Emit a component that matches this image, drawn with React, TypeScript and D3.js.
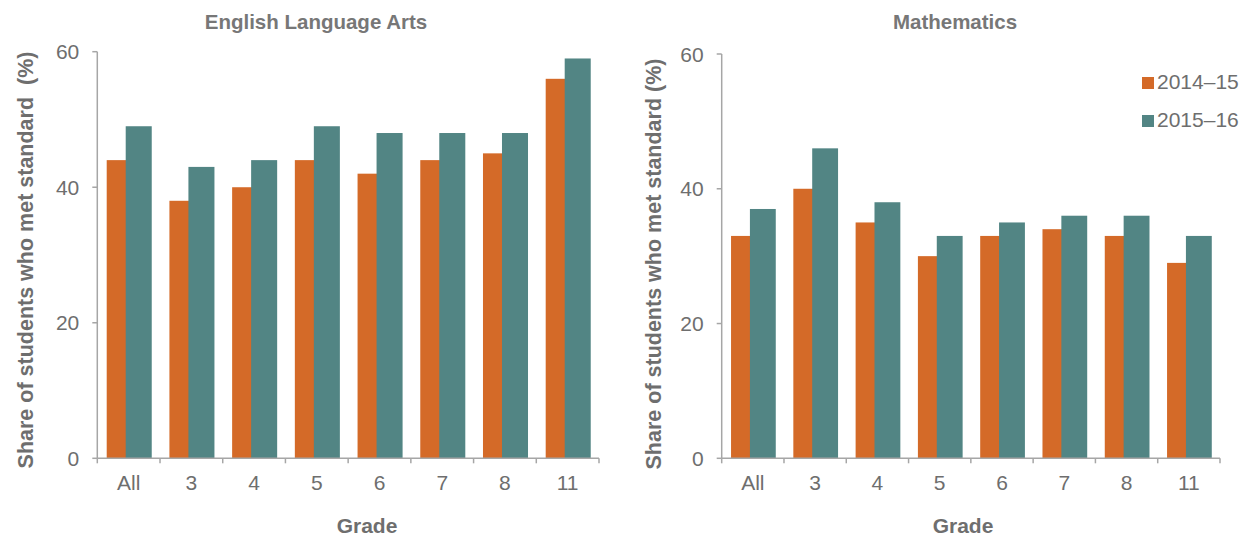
import React from "react";
import * as d3 from "d3";

// Grades shown on the x axis
const grades = ["All", "3", "4", "5", "6", "7", "8", "11"];
// School years
const years = ["2014–15", "2015–16"];
// Share of students who met standard (%)
const elaPrev = [44, 38, 40, 44, 42, 44, 45, 56];
const elaCurr = [49, 43, 44, 49, 48, 48, 48, 59];
const mathPrev = [33, 40, 35, 30, 33, 34, 33, 29];
const mathCurr = [37, 46, 38, 33, 35, 36, 36, 33];
const yTicks = [0, 20, 40, 60];

const COLORS = ["#D46A28", "#528584"];
const AXIS = "#A6A6A6";
const TEXT = "#6E6E6E";
const FONT = "'Liberation Sans', Arial, Helvetica, sans-serif";

type PanelProps = {
  title: string;
  yLabel: string;
  prev: number[];
  curr: number[];
  x0: number;
  x1: number;
  yTop: number;
  yBottom: number;
  titleX: number;
  yLabelX: number;
  yLabelY: number;
  gradeX: number;
  legend?: boolean;
};

function Panel(p: PanelProps) {
  const x = d3.scaleBand<string>().domain(grades).range([p.x0, p.x1]).paddingInner(0).paddingOuter(0);
  const y = d3.scaleLinear().domain([0, 60]).range([p.yBottom, p.yTop]);
  const step = x.step();
  const barW = step * 0.415;
  const offsets = [0.15, 0.453];
  const boundaries = grades.map((g) => x(g) as number).concat([p.x1]);

  return (
    <g>
      <text x={p.titleX} y={29} textAnchor="middle" fontFamily={FONT} fontSize={20.5} fontWeight="bold" fill="#777777">
        {p.title}
      </text>

      {/* bars: earlier year first so the later year sits over the overlap */}
      {[p.prev, p.curr].map((vals, si) =>
        vals.map((v, i) => (
          <rect
            key={`${si}-${i}`}
            x={(x(grades[i]) as number) + offsets[si] * step}
            y={y(v)}
            width={barW}
            height={y(0) - y(v)}
            fill={COLORS[si]}
          />
        ))
      )}

      {/* y axis */}
      <line x1={p.x0} x2={p.x0} y1={y(60)} y2={y(0)} stroke={AXIS} strokeWidth={1.5} />
      {yTicks.map((t) => (
        <g key={t}>
          <line x1={p.x0 - 5} x2={p.x0} y1={y(t)} y2={y(t)} stroke={AXIS} strokeWidth={1.5} />
          <text x={p.x0 - 18} y={y(t)} dy="0.36em" textAnchor="end" fontFamily={FONT} fontSize={21} fill={TEXT}>
            {t}
          </text>
        </g>
      ))}

      {/* x axis */}
      <line x1={p.x0} x2={p.x1} y1={y(0)} y2={y(0)} stroke={AXIS} strokeWidth={1.5} />
      {boundaries.map((b, i) => (
        <line key={i} x1={b} x2={b} y1={y(0)} y2={y(0) + 5} stroke={AXIS} strokeWidth={1.5} />
      ))}
      {grades.map((g) => (
        <text
          key={g}
          x={(x(g) as number) + step / 2}
          y={490}
          textAnchor="middle"
          fontFamily={FONT}
          fontSize={21}
          fill={TEXT}
        >
          {g}
        </text>
      ))}

      <text x={p.gradeX} y={533} textAnchor="middle" fontFamily={FONT} fontSize={21} fontWeight="bold" fill={TEXT}>
        Grade
      </text>
      <text
        transform={`translate(${p.yLabelX},${p.yLabelY}) rotate(-90)`}
        dy="0.36em"
        textAnchor="middle"
        fontFamily={FONT}
        fontSize={21.5}
        fontWeight="bold"
        fill={TEXT}
        style={{ whiteSpace: "pre" }}
      >
        {p.yLabel}
      </text>

      {p.legend &&
        years.map((yr, i) => (
          <g key={yr} transform={`translate(1142,${77 + i * 38})`}>
            <rect x={0} y={0} width={12} height={12} fill={COLORS[i]} />
            <text x={15} y={12} fontFamily={FONT} fontSize={21} fill={TEXT}>
              {yr}
            </text>
          </g>
        ))}
    </g>
  );
}

export default function App() {
  return (
    <svg
      width={1244}
      height={540}
      style={{ position: "absolute", left: 0, top: 0, background: "#ffffff" }}
    >
      <Panel
        title="English Language Arts"
        yLabel={"Share of students who met standard\u00A0 (%)"}
        prev={elaPrev}
        curr={elaCurr}
        x0={97.3}
        x1={599}
        yTop={51.7}
        yBottom={458.3}
        titleX={316}
        yLabelX={25}
        yLabelY={260}
        gradeX={367}
      />
      <Panel
        title="Mathematics"
        yLabel="Share of students who met standard (%)"
        prev={mathPrev}
        curr={mathCurr}
        x0={721.7}
        x1={1220}
        yTop={54}
        yBottom={458.3}
        titleX={955}
        yLabelX={653}
        yLabelY={264}
        gradeX={963}
        legend
      />
    </svg>
  );
}
